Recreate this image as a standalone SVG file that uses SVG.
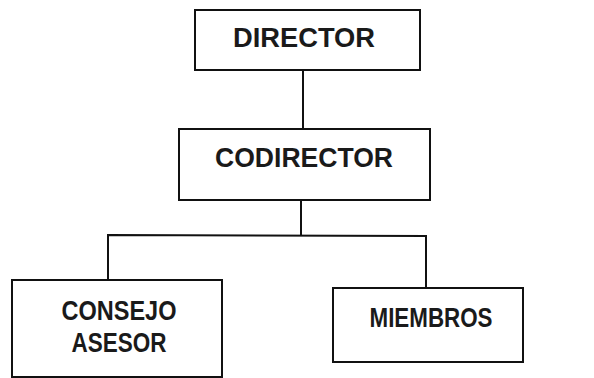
<svg xmlns="http://www.w3.org/2000/svg" width="594" height="378" viewBox="0 0 594 378">
<style>
.box{fill:#fff;stroke:#111;stroke-width:2}
.t{font-family:"Liberation Sans",Arial,sans-serif;font-weight:bold;font-size:27px;fill:#1a1a1a;text-anchor:middle}
.c{fill:none;stroke:#111;stroke-width:2}
</style>
<rect width="594" height="378" fill="#fff"/>
<g id="connectors">
<line class="c" x1="303" y1="70" x2="303" y2="129"/>
<line class="c" x1="301" y1="200" x2="301" y2="236"/>
<polyline class="c" points="108,282 108,235 426,236 426,288"/>
</g>
<g id="director">
<rect class="box" x="195" y="10" width="225" height="60"/>
<text class="t" x="304" y="47" textLength="142" lengthAdjust="spacingAndGlyphs">DIRECTOR</text>
</g>
<g id="codirector">
<rect class="box" x="179" y="129" width="251" height="71"/>
<text class="t" x="304" y="167" textLength="178" lengthAdjust="spacingAndGlyphs">CODIRECTOR</text>
</g>
<g id="consejo">
<rect class="box" x="12" y="280" width="210" height="97"/>
<text class="t" x="119" y="320" textLength="115" lengthAdjust="spacingAndGlyphs">CONSEJO</text>
<text class="t" x="119" y="352" textLength="95" lengthAdjust="spacingAndGlyphs">ASESOR</text>
</g>
<g id="miembros">
<rect class="box" x="333" y="288" width="190" height="74"/>
<text class="t" x="431" y="327" textLength="123" lengthAdjust="spacingAndGlyphs">MIEMBROS</text>
</g>
</svg>
